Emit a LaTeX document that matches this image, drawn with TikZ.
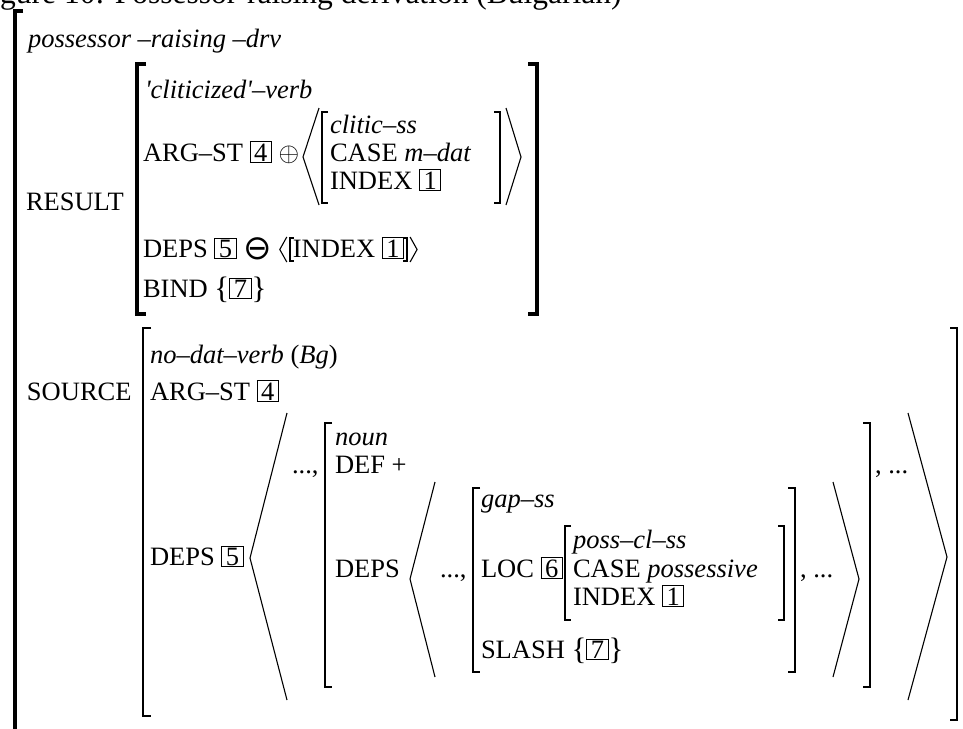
\documentclass[tikz,border=0pt]{standalone}
\usepackage{fix-cm}
\usepackage{graphicx}
\usepackage{fontspec}
\setmainfont{Liberation Serif}
\newfontfamily\symfont{DejaVu Sans}
\usetikzlibrary{calc}
\newcommand\tagbox[1]{{\setlength{\fboxsep}{1.2pt}\setlength{\fboxrule}{0.9pt}\fbox{\kern2.4pt#1\kern2.4pt}}}
\newcommand\bigbr[1]{\raisebox{-1.5pt}{\fontsize{31}{31}\selectfont #1}}
\newcommand\omin{\raisebox{-2pt}{\symfont\fontsize{34}{34}\selectfont ⊖}}
\tikzset{
 txt/.style={anchor=base west, inner sep=0pt, outer sep=0pt, font=\fontsize{26.5}{31}\selectfont},
 it/.style={txt, font=\fontsize{26.5}{31}\selectfont\itshape},
 brk/.style={line width=1.8pt, line join=miter},
 thickbrk/.style={line width=3.8pt, line join=miter},
 ang/.style={line width=1.1pt, line join=miter},
}
\begin{document}
\begin{tikzpicture}[x=1pt,y=-1pt]
\useasboundingbox (0,0) rectangle (963,728);
% title (cut at top)
\node[anchor=base west, inner sep=0pt, font=\fontsize{31.5}{36}\selectfont] (title) at (0,3) {gure 10: Possessor-raising derivation (Bulgarian)};
% outer bracket
\draw[line width=4.2pt, line join=miter] (23,11) -- (14.8,11) -- (14.8,740);
\node[it] (ptype) at (28,47) {possessor –raising –drv};
% RESULT
\node[txt] (result) at (26,210) {RESULT};
\draw[thickbrk] (146,64) -- (137,64) -- (137,314) -- (146,314);
\draw[thickbrk] (528,64) -- (537,64) -- (537,314) -- (528,314);
\node[it] (cltype) at (145,98) {\textquotesingle cliticized\textquotesingle–verb};
\node[txt] (rarg) at (143,161) {ARG–ST \tagbox{4} $\oplus$};
\draw[ang] (319,108) -- (303,157) -- (319,205);
\draw[brk] (328,112) -- (322,112) -- (322,203) -- (328,203);
\node[it] (clss) at (330,133) {clitic–ss};
\node[txt] (clcase) at (330,161) {CASE \textit{m–dat}};
\node[txt] (clidx) at (330,189) {INDEX \tagbox{1}};
\draw[brk] (494,112) -- (500,112) -- (500,203) -- (494,203);
\draw[ang] (506,108) -- (521,157) -- (506,205);
% DEPS line of RESULT
\node[txt] (rdeps) at (143,257) {DEPS \tagbox{5} \omin};
\coordinate (re) at (rdeps.base east);
\draw[ang] ($(re)+(15,-20)$) -- ($(re)+(8,-7.5)$) -- ($(re)+(15,5)$);
\draw[brk] ($(re)+(22,-19)$) -- ($(re)+(18,-19)$) -- ($(re)+(18,4)$) -- ($(re)+(22,4)$);
\node[txt] (ridx) at ($(re)+(21,0)$) {INDEX \tagbox{1}};
\coordinate (ri) at (ridx.base east);
\draw[brk] ($(ri)+(-1,-19)$) -- ($(ri)+(3,-19)$) -- ($(ri)+(3,4)$) -- ($(ri)+(-1,4)$);
\draw[ang] ($(ri)+(6,-20)$) -- ($(ri)+(13,-7.5)$) -- ($(ri)+(6,5)$);
\node[txt] (bind) at (143,297) {BIND \bigbr{\{}\tagbox{7}\bigbr{\}}};
% SOURCE
\node[txt] (source) at (27,400) {SOURCE};
\draw[brk] (151,328) -- (143,328) -- (143,716) -- (151,716);
\draw[brk] (950,328) -- (957,328) -- (957,720) -- (950,720);
\node[txt] (stype) at (150,363) {\textit{no–dat–verb} (\textit{Bg})};
\node[txt] (sarg) at (150,400) {ARG–ST \tagbox{4}};
\node[txt] (sdeps) at (150,565) {DEPS \tagbox{5}};
\draw[ang] (287,413) -- (250,558) -- (287,700);
\draw[ang] (908,413) -- (947,557) -- (908,700);
\node[txt] (dots1) at (292,473) {...,};
\draw[brk] (332,423) -- (325,423) -- (325,687) -- (332,687);
\draw[brk] (863,423) -- (870,423) -- (870,687) -- (863,687);
\node[txt] (dots2) at (875,473) {, ...};
\node[it] (ntype) at (335,445) {noun};
\node[txt] (ndef) at (335,473) {DEF +};
\node[txt] (ndeps) at (335,577) {DEPS};
\draw[ang] (435,482) -- (410,579) -- (435,677);
\draw[ang] (833,482) -- (859,579) -- (833,677);
\node[txt] (dots3) at (440,577) {...,};
\draw[brk] (480,488) -- (473,488) -- (473,672) -- (480,672);
\draw[brk] (788,488) -- (795,488) -- (795,672) -- (788,672);
\node[txt] (dots4) at (800,577) {, ...};
\node[it] (gtype) at (481,507) {gap–ss};
\node[txt] (gloc) at (481,577) {LOC \tagbox{6}};
\draw[brk] (571,526) -- (565,526) -- (565,620) -- (571,620);
\draw[brk] (778,526) -- (784,526) -- (784,620) -- (778,620);
\node[it] (ptype2) at (573,548) {poss–cl–ss};
\node[txt] (pcase) at (573,577) {CASE \textit{possessive}};
\node[txt] (pidx) at (573,605) {INDEX \tagbox{1}};
\node[txt] (gslash) at (481,658) {SLASH \bigbr{\{}\tagbox{7}\bigbr{\}}};
\end{tikzpicture}
\end{document}
